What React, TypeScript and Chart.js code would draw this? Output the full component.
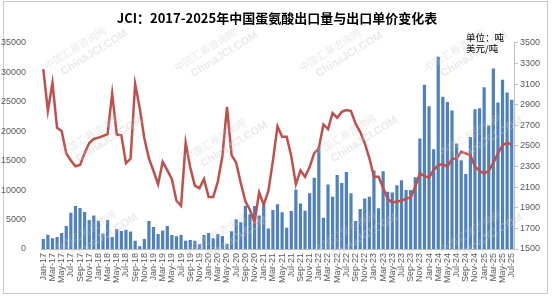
import React, { useEffect, useRef } from 'react';
import { Chart, registerables } from 'chart.js';

Chart.register(...registerables);

const TITLE = 'JCI：2017-2025年中国蛋氨酸出口量与出口单价变化表';
const UNIT_LINES = ['单位：吨', '美元/吨'];
const WATERMARK_LINES = ['中国汇易咨询网', 'ChinaJCI.COM'];

const MONTH_LABELS = [
  'Jan-17','Feb-17','Mar-17','Apr-17','May-17','Jun-17','Jul-17','Aug-17','Sep-17','Oct-17','Nov-17','Dec-17',
  'Jan-18','Feb-18','Mar-18','Apr-18','May-18','Jun-18','Jul-18','Aug-18','Sep-18','Oct-18','Nov-18','Dec-18',
  'Jan-19','Feb-19','Mar-19','Apr-19','May-19','Jun-19','Jul-19','Aug-19','Sep-19','Oct-19','Nov-19','Dec-19',
  'Jan-20','Feb-20','Mar-20','Apr-20','May-20','Jun-20','Jul-20','Aug-20','Sep-20','Oct-20','Nov-20','Dec-20',
  'Jan-21','Feb-21','Mar-21','Apr-21','May-21','Jun-21','Jul-21','Aug-21','Sep-21','Oct-21','Nov-21','Dec-21',
  'Jan-22','Feb-22','Mar-22','Apr-22','May-22','Jun-22','Jul-22','Aug-22','Sep-22','Oct-22','Nov-22','Dec-22',
  'Jan-23','Feb-23','Mar-23','Apr-23','May-23','Jun-23','Jul-23','Aug-23','Sep-23','Oct-23','Nov-23','Dec-23',
  'Jan-24','Feb-24','Mar-24','Apr-24','May-24','Jun-24','Jul-24','Aug-24','Sep-24','Oct-24','Nov-24','Dec-24',
  'Jan-25','Feb-25','Mar-25','Apr-25','May-25','Jun-25','Jul-25',
];

// 出口量（吨）
const EXPORT_VOLUME = [
  1690, 2430, 1810, 2030, 2710, 3900, 6160, 7280, 6950, 6270, 4910, 5700,
  4800, 2650, 4910, 2030, 3390, 3050, 3280, 2990, 1410, 450, 1690, 4740,
  3730, 2540, 3160, 3900, 2370, 2150, 2370, 1410, 1520, 1410, 790, 2370,
  2710, 1810, 2540, 2200, 900, 3000, 5030, 4520, 7340, 5900, 7300, 5700,
  7600, 3500, 6620, 7600, 6250, 3600, 6440, 10100, 7740, 6500, 9480, 12080,
  17330, 5300, 10950, 8870, 12550, 11220, 13080, 9480, 4750, 6780, 8580, 8870,
  13320, 6900, 13210, 9700, 9600, 10840, 11680, 10000, 10000, 12180, 18750, 27900,
  24250, 16940, 32650, 25830, 24960, 23500, 17900, 15080, 12730, 19030, 23720, 23880,
  27470, 20980, 30630, 24870, 28740, 26570, 25350,
];

// 出口单价（美元/吨）
const EXPORT_PRICE = [
  3245, 2840, 3110, 2676, 2645, 2427, 2358, 2302, 2315, 2430, 2528, 2567,
  2580, 2596, 2615, 3007, 2610, 2603, 2332, 2375, 3100, 2868, 2574, 2380,
  2257, 2128, 2346, 2265, 2177, 1968, 1920, 2530, 2290, 2115, 2090, 2178,
  2005, 2005, 2152, 2400, 2879, 2411, 2338, 2140, 1965, 1878, 1760, 2048,
  1930, 2060, 2355, 2690, 2588, 2588, 2400, 2127, 2262, 2200, 2295, 2430,
  2477, 2708, 2663, 2820, 2772, 2830, 2848, 2838, 2715, 2637, 2527, 2382,
  2203, 2201, 2095, 1985, 1950, 1960, 1968, 1987, 2000, 2104, 2233, 2207,
  2194, 2265, 2314, 2324, 2298, 2372, 2379, 2443, 2427, 2411, 2298, 2259,
  2233, 2259, 2336, 2427, 2508, 2530, 2514,
];

const WATERMARK_SPOTS = [
  [75, 48], [205, 50], [330, 50], [455, 50],
  [90, 135], [215, 140], [345, 135], [470, 135],
  [85, 232], [215, 235], [345, 232], [470, 232],
];

const decorPlugin = {
  id: 'decor',
  beforeDraw(chart: any) {
    const ctx = chart.ctx;
    ctx.save();
    ctx.fillStyle = '#ffffff';
    ctx.fillRect(0, 0, chart.width, chart.height);
    ctx.strokeStyle = '#c8c8c8';
    ctx.lineWidth = 1;
    ctx.strokeRect(3.5, 1.5, 544, 292);
    ctx.restore();
  },
  afterDraw(chart: any) {
    const ctx = chart.ctx;
    ctx.save();
    for (const [cx, cy] of WATERMARK_SPOTS) {
      ctx.save();
      ctx.translate(cx, cy);
      ctx.rotate(-32 * Math.PI / 180);
      ctx.fillStyle = 'rgba(200,200,200,0.4)';
      ctx.textAlign = 'center';
      ctx.textBaseline = 'middle';
      ctx.font = '10px "Noto Sans CJK SC"';
      ctx.fillText(WATERMARK_LINES[0], 0, 0);
      ctx.font = 'bold 11px "Liberation Sans"';
      ctx.fillText(WATERMARK_LINES[1], 14, 14);
      ctx.restore();
    }
    ctx.fillStyle = '#000000';
    ctx.textAlign = 'left';
    ctx.textBaseline = 'middle';
    ctx.font = '9.5px "Noto Sans CJK SC"';
    ctx.fillText(UNIT_LINES[0], 466, 37);
    ctx.fillText(UNIT_LINES[1], 466, 48.5);
    ctx.restore();
  },
};

export default function App() {
  const canvasRef = useRef<HTMLCanvasElement | null>(null);

  useEffect(() => {
    const canvas = canvasRef.current;
    if (!canvas) return;
    const chart = new Chart(canvas, {
      type: 'bar',
      data: {
        labels: MONTH_LABELS,
        datasets: [
          {
            type: 'line',
            label: '出口单价',
            data: EXPORT_PRICE,
            yAxisID: 'y1',
            borderColor: '#c0504d',
            backgroundColor: '#c0504d',
            borderWidth: 2.5,
            pointRadius: 0,
            tension: 0,
            order: 0,
          } as any,
          {
            type: 'bar',
            label: '出口量',
            data: EXPORT_VOLUME,
            yAxisID: 'y',
            backgroundColor: '#4f81bd',
            categoryPercentage: 1,
            barPercentage: 0.7,
            order: 1,
          } as any,
        ],
      },
      options: {
        responsive: false,
        animation: false,
        layout: { padding: { top: 0, left: 0, right: 0, bottom: 8 } },
        plugins: {
          legend: { display: false },
          tooltip: { enabled: false },
          title: {
            display: true,
            text: TITLE,
            color: '#000000',
            font: { size: 13, weight: 'bold', family: '"Noto Sans CJK SC"', lineHeight: 1.2 },
            padding: { top: 10, bottom: 17.2 },
          },
        },
        scales: {
          x: {
            grid: { display: false, drawTicks: false },
            border: { display: true, color: '#bfbfbf' },
            ticks: {
              autoSkip: false,
              maxRotation: 90,
              minRotation: 90,
              padding: 4,
              color: '#595959',
              font: { size: 9, family: '"Liberation Sans"' },
              callback: (_v: any, i: number) => (i % 2 === 0 ? MONTH_LABELS[i] : ''),
            },
            afterFit: (s: any) => { s.height = 44; },
          },
          y: {
            position: 'left',
            min: 0,
            max: 35000,
            grid: { display: false },
            border: { display: false },
            ticks: {
              stepSize: 5000,
              padding: 7,
              color: '#595959',
              font: { size: 9, family: '"Liberation Sans"' },
              callback: (v: any) => String(v),
            },
            afterFit: (s: any) => { s.width = 41; },
          },
          y1: {
            position: 'right',
            min: 1500,
            max: 3500,
            grid: { display: true, drawOnChartArea: false, drawTicks: true, tickLength: 4, color: '#bfbfbf' },
            border: { display: true, color: '#bfbfbf' },
            ticks: {
              stepSize: 200,
              padding: 2,
              color: '#595959',
              font: { size: 9, family: '"Liberation Sans"' },
              callback: (v: any) => String(v),
            },
            afterFit: (s: any) => { s.width = 40; },
          },
        },
      } as any,
      plugins: [decorPlugin],
    });
    return () => chart.destroy();
  }, []);

  return (
    <div style={{ position: 'absolute', left: 0, top: 0, width: 554, height: 301 }}>
      <canvas ref={canvasRef} width={554} height={301} />
    </div>
  );
}
